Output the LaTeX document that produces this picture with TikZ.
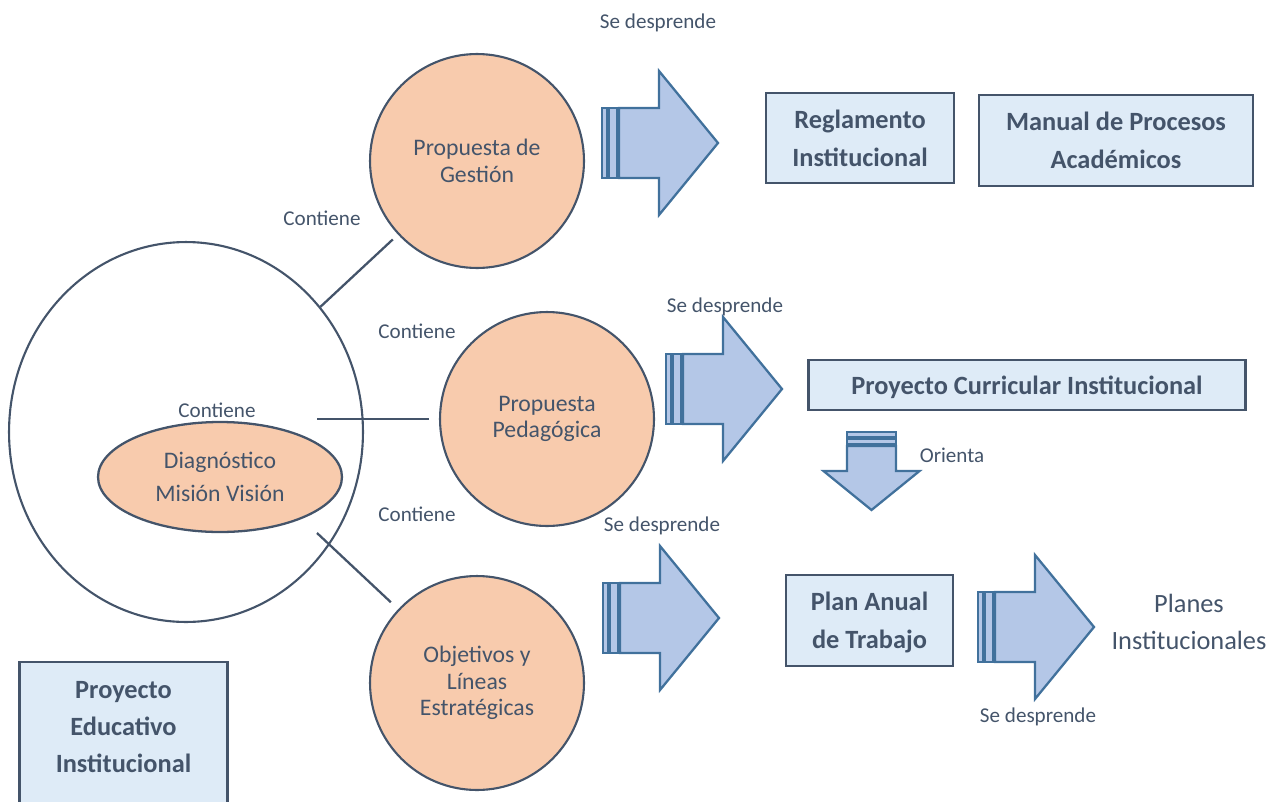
\documentclass[tikz,border=0pt]{standalone}
\usepackage{fontspec}
\setmainfont{Carlito}
\usepackage{tikz}
\usetikzlibrary{shapes.geometric}
\usetikzlibrary{positioning}
\definecolor{pizarra}{HTML}{44546A}
\definecolor{salmon}{HTML}{F8CBAD}
\definecolor{celeste}{HTML}{DEEBF7}
\definecolor{flechafill}{HTML}{B4C7E7}
\definecolor{flechaline}{HTML}{41719C}
\tikzset{>=latex}

\begin{document}
\begin{tikzpicture}[x=0.02cm, y=-0.02cm,
	propuesta/.style={circle, draw=pizarra, fill=salmon, line width=1.2pt, minimum size=4.28cm, inner sep=0pt, align=center, text=pizarra, font=\fontsize{13.5}{15}\selectfont},
	caja/.style={rectangle, draw=pizarra, fill=celeste, line width=1.3pt, inner sep=0pt, text depth=0pt, align=center, text=pizarra, font=\bfseries\fontsize{15}{21.5}\selectfont},
	etiqueta/.style={text=pizarra, inner sep=0pt, font=\fontsize{12}{14}\selectfont},
	flecha/.style={draw=flechaline, fill=flechafill, line width=1.3pt, line join=miter},
	conector/.style={draw=pizarra, line width=1.3pt},
	sdarrow/.pic={
		\draw[flecha] (0,-35) rectangle (5,35);
		\draw[flecha] (6.5,-35) rectangle (15.5,35);
		\draw[flecha] (17,-35) -- (57,-35) -- (57,-72) -- (116,0) -- (57,72) -- (57,35) -- (17,35) -- cycle;
	},
	sddown/.pic={
		\draw[flecha] (-24.5,0) rectangle (24.5,5);
		\draw[flecha] (-24.5,6.5) rectangle (24.5,12.5);
		\draw[flecha] (-24.5,14) -- (-24.5,39) -- (-48,39) -- (0,78) -- (48,39) -- (24.5,39) -- (24.5,14) -- cycle;
	}]
		\useasboundingbox (0,0) rectangle (1270,801);

		% marco del PEI
		\node[ellipse, draw=pizarra, line width=1.2pt, minimum width=7.08cm, minimum height=7.6cm] (marco) at (186,432) {};
		\node[ellipse, draw=pizarra, fill=salmon, line width=1.3pt, minimum width=4.88cm, minimum height=2.2cm, inner sep=0pt, align=center, text=pizarra, font=\fontsize{13.5}{18.5}\selectfont] (diag) at (220,477) {Diagnóstico\\Misión Visión};

		\node[propuesta] (gestion) at (477,161) {Propuesta de\\Gestión};
		\node[propuesta] (pedag) at (547,419) {Propuesta\\Pedagógica};
		\node[propuesta] (objet) at (477,683) {Objetivos y\\Líneas\\Estratégicas};

		\coordinate (c2) at (317,419);
		\coordinate (c3) at (317,533);
		\draw[conector, shorten >=4pt] (marco) -- (gestion);
		\draw[conector, shorten >=5.7pt] (c2) -- (pedag);
		\draw[conector, shorten >=5.7pt] (c3) -- (objet);

		\node[etiqueta] (cont1) at (322,218) {Contiene};
		\node[etiqueta] (cont2) at (417,331) {Contiene};
		\node[etiqueta] (cont3) at (217,410) {Contiene};
		\node[etiqueta] (cont4) at (417,514) {Contiene};

		% flechas
		\pic (fl1) at (602,143) {sdarrow};
		\pic (fl2) at (666,389) {sdarrow};
		\pic (fl3) at (603,618) {sdarrow};
		\pic (fl4) at (978,627) {sdarrow};
		\pic (fl5) at (871.5,432) {sddown};

		\node[etiqueta] (desp1) at (658,23) {Se desprende};
		\node[etiqueta] (desp2) at (725,307) {Se desprende};
		\node[etiqueta] (desp3) at (662,526) {Se desprende};
		\node[etiqueta] (desp4) at (1038,717) {Se desprende};
		\node[etiqueta] (orienta) at (952,455) {Orienta};

		% cajas
		\node[caja, minimum width=3.76cm, minimum height=1.8cm] (regl) at (860,138) {Reglamento\\Institucional};
		\node[caja, minimum width=5.48cm, minimum height=1.82cm] (manual) at (1116,140.5) {Manual de Procesos\\Académicos};
		\node[caja, minimum width=8.74cm, minimum height=1.0cm] (pci) at (1027,385) {Proyecto Curricular Institucional};
		\node[caja, minimum width=3.34cm, minimum height=1.82cm] (plan) at (869.5,620.5) {Plan Anual\\de Trabajo};
		\node[caja, minimum width=4.16cm, minimum height=3.6cm, anchor=north] (pei) at (123.5,661) {};
		\node[text=pizarra, align=center, inner sep=0pt, font=\bfseries\fontsize{15}{21}\selectfont] (peitexto) at (123.5,727) {Proyecto\\Educativo\\Institucional};

		\node[text=pizarra, align=center, inner sep=0pt, font=\fontsize{15}{21}\selectfont] (planes) at (1189,622) {Planes\\Institucionales};
	\end{tikzpicture}
\end{document}
